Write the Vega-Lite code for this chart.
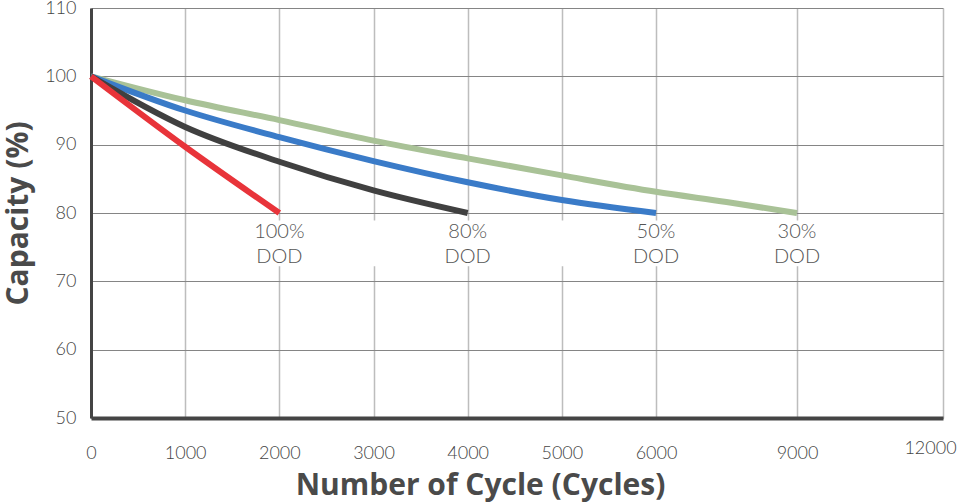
{
  "$schema": "https://vega.github.io/schema/vega-lite/v6.json",
  "width": 852,
  "height": 410,
  "autosize": "none",
  "padding": {"left": 91, "top": 8, "right": 20, "bottom": 85},
  "background": "white",
  "config": {
    "view": {"stroke": null},
    "font": "Lato"
  },
  "datasets": {
    "curves": [
      {"dod": "30%", "cycles": 0, "capacity": 100},
      {"dod": "30%", "cycles": 1000, "capacity": 96.5},
      {"dod": "30%", "cycles": 2000, "capacity": 93.6},
      {"dod": "30%", "cycles": 3000, "capacity": 90.6},
      {"dod": "30%", "cycles": 4000, "capacity": 88.0},
      {"dod": "30%", "cycles": 5000, "capacity": 85.5},
      {"dod": "30%", "cycles": 6000, "capacity": 83.1},
      {"dod": "30%", "cycles": 7500, "capacity": 81.6},
      {"dod": "30%", "cycles": 9000, "capacity": 80},
      {"dod": "50%", "cycles": 0, "capacity": 100},
      {"dod": "50%", "cycles": 1000, "capacity": 95.0},
      {"dod": "50%", "cycles": 2000, "capacity": 91.1},
      {"dod": "50%", "cycles": 3000, "capacity": 87.6},
      {"dod": "50%", "cycles": 4000, "capacity": 84.5},
      {"dod": "50%", "cycles": 5000, "capacity": 81.9},
      {"dod": "50%", "cycles": 6000, "capacity": 80},
      {"dod": "80%", "cycles": 0, "capacity": 100},
      {"dod": "80%", "cycles": 1000, "capacity": 92.6},
      {"dod": "80%", "cycles": 2000, "capacity": 87.5},
      {"dod": "80%", "cycles": 3000, "capacity": 83.3},
      {"dod": "80%", "cycles": 4000, "capacity": 80},
      {"dod": "100%", "cycles": 0, "capacity": 100},
      {"dod": "100%", "cycles": 1000, "capacity": 89.7},
      {"dod": "100%", "cycles": 2000, "capacity": 80}
    ],
    "labels": [
      {"cycles": 2000, "capacity": 77.2, "text": "100%"},
      {"cycles": 2000, "capacity": 73.5, "text": "DOD"},
      {"cycles": 4000, "capacity": 77.2, "text": "80%"},
      {"cycles": 4000, "capacity": 73.5, "text": "DOD"},
      {"cycles": 6000, "capacity": 77.2, "text": "50%"},
      {"cycles": 6000, "capacity": 73.5, "text": "DOD"},
      {"cycles": 9000, "capacity": 77.2, "text": "30%"},
      {"cycles": 9000, "capacity": 73.5, "text": "DOD"}
    ],
    "labelbox": [
      {"x1": 1300, "x2": 9850, "y1": 78.9, "y2": 72.2}
    ]
  },
  "layer": [
    {
      "data": {"name": "labelbox"},
      "mark": {"type": "rect", "color": "white"},
      "encoding": {
        "x": {"field": "x1", "type": "quantitative",
          "scale": {"domain": [0, 6000, 9000, 12000], "range": [0, 565, 706, 852], "nice": false, "zero": false},
          "axis": {
            "values": [0, 1000, 2000, 3000, 4000, 5000, 6000, 9000, 12000],
            "format": "d",
            "title": "Number of Cycle (Cycles)",
            "titleFont": "Open Sans",
            "titleFontSize": 30,
            "titleFontWeight": "bold",
            "titleColor": "#4a4a4a",
            "titleX": 389,
            "titleY": 67,
            "titleAlign": "center",
            "titleBaseline": "middle",
            "labelFontSize": 18,
            "labelFontWeight": 300,
            "labelColor": "#444444",
            "labelPadding": {"condition": {"test": "datum.value == 12000", "value": 21}, "value": 26},
            "labelOffset": {"condition": {"test": "datum.value == 12000", "value": -13}, "value": 0},
            "labelFlush": false,
            "ticks": false,
            "domainColor": "#444444",
            "domainWidth": 4,
            "gridColor": "#bdbdbd",
            "gridWidth": 1.5,
            "gridOpacity": 1
          }
        },
        "x2": {"field": "x2"},
        "y": {"field": "y1", "type": "quantitative",
          "scale": {"domain": [50, 110], "nice": false, "zero": false},
          "axis": {
            "values": [50, 60, 70, 80, 90, 100, 110],
            "title": "Capacity (%)",
            "titleFont": "Open Sans",
            "titleFontSize": 30,
            "titleFontWeight": "bold",
            "titleColor": "#4a4a4a",
            "titleX": -73,
            "titleY": 205,
            "titleAngle": -90,
            "titleAlign": "center",
            "titleBaseline": "middle",
            "labelFontSize": 18,
            "labelFontWeight": 300,
            "labelColor": "#444444",
            "labelPadding": 15,
            "labelFlush": false,
            "ticks": false,
            "domainColor": "#444444",
            "domainWidth": 3,
            "gridColor": "#858585",
            "gridWidth": 1.2,
            "gridOpacity": 1
          }
        },
        "y2": {"field": "y2"}
      }
    },
    {
      "data": {"name": "curves"},
      "mark": {"type": "line", "strokeWidth": 6, "interpolate": "monotone"},
      "encoding": {
        "x": {"field": "cycles", "type": "quantitative"},
        "y": {"field": "capacity", "type": "quantitative"},
        "color": {
          "field": "dod", "type": "nominal",
          "scale": {"domain": ["30%", "50%", "80%", "100%"], "range": ["#a9c297", "#3a7bc8", "#404040", "#e8343a"]},
          "legend": null
        }
      }
    },
    {
      "data": {"name": "labels"},
      "mark": {"type": "text", "fontSize": 20, "fontWeight": 300, "color": "#555555", "align": "center", "baseline": "middle"},
      "encoding": {
        "x": {"field": "cycles", "type": "quantitative"},
        "y": {"field": "capacity", "type": "quantitative"},
        "text": {"field": "text"}
      }
    }
  ]
}
